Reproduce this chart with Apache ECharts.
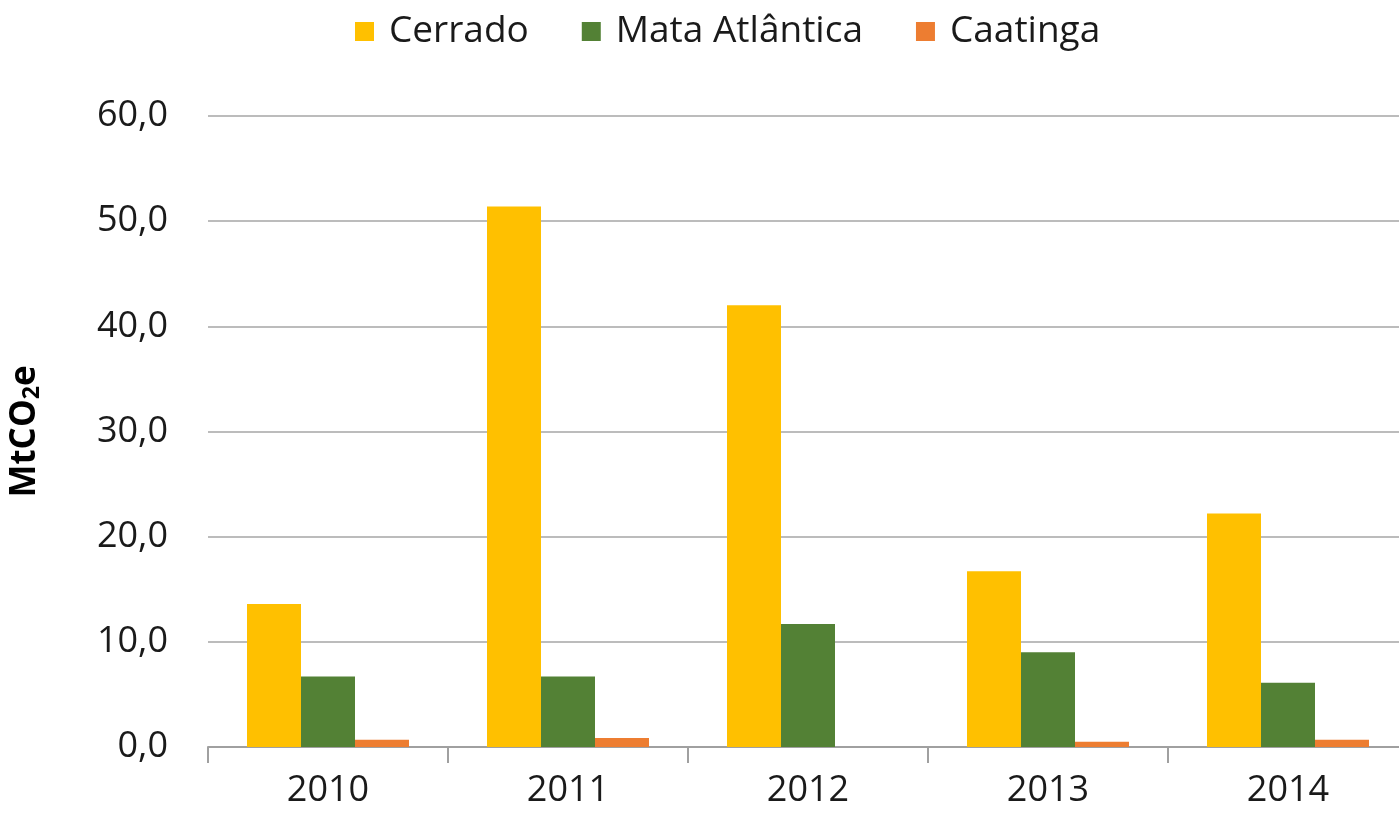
<!DOCTYPE html>
<html>
<head>
<meta charset="utf-8">
<script src="https://cdn.jsdelivr.net/npm/echarts@6/dist/echarts.min.js"></script>
<style>
  html, body { margin: 0; padding: 0; background: #fff; }
  #chart { width: 1399px; height: 818px; }
</style>
</head>
<body>
<div id="chart"></div>
<script>
// dados
const anos = ['2010', '2011', '2012', '2013', '2014'];
const cerrado = [13.6, 51.4, 42.0, 16.7, 22.2];
const mataAtlantica = [6.7, 6.7, 11.7, 9.0, 6.1];
const caatinga = [0.7, 0.85, null, 0.5, 0.7];

const fonte = '"Open Sans", "Liberation Sans", sans-serif';

const chart = echarts.init(document.getElementById('chart'));

chart.setOption({
    animation: false,
    textStyle: { fontFamily: fonte },
    legend: {
        top: 8,
        left: 350,
        itemWidth: 19,
        itemHeight: 19,
        itemGap: 53,
        icon: 'rect',
        textStyle: { fontSize: 37, color: '#1a1a1a', fontFamily: fonte, padding: [0, 0, 0, 10] }
    },
    // a grade continua além da borda direita, como no original
    grid: { left: 208, width: 1200, top: 116, bottom: 71, outerBoundsMode: 'none' },
    xAxis: {
        type: 'category',
        data: anos,
        axisLine: { lineStyle: { color: '#a0a0a0', width: 2 } },
        axisTick: { show: true, length: 16, lineStyle: { color: '#a0a0a0', width: 2 } },
        axisLabel: { fontSize: 36, color: '#1a1a1a', margin: 26 }
    },
    yAxis: {
        type: 'value',
        min: 0,
        max: 60,
        interval: 10,
        name: '{m|MtCO}{s|2}{m|e}',
        nameLocation: 'middle',
        nameGap: 164,
        nameTextStyle: {
            rich: {
                m: { fontSize: 35, fontWeight: 'bold', color: '#000', fontFamily: fonte },
                s: { fontSize: 23, fontWeight: 'bold', color: '#000', fontFamily: fonte, verticalAlign: 'bottom', padding: [14, 0, 0, 0] }
            }
        },
        axisLine: { show: false },
        axisTick: { show: false },
        axisLabel: {
            fontSize: 36,
            color: '#1a1a1a',
            margin: 40,
            formatter: v => v.toFixed(1).replace('.', ',')
        },
        splitLine: { lineStyle: { color: '#a6a6a6', width: 1.5 } }
    },
    series: [
        { name: 'Cerrado', type: 'bar', data: cerrado, itemStyle: { color: '#ffc000' }, barWidth: 54, barGap: '0%', barCategoryGap: '32%' },
        { name: 'Mata Atlântica', type: 'bar', data: mataAtlantica, itemStyle: { color: '#538135' }, barWidth: 54, barGap: '0%' },
        { name: 'Caatinga', type: 'bar', data: caatinga, itemStyle: { color: '#ed7d31' }, barWidth: 54, barGap: '0%' }
    ]
});
</script>
</body>
</html>
